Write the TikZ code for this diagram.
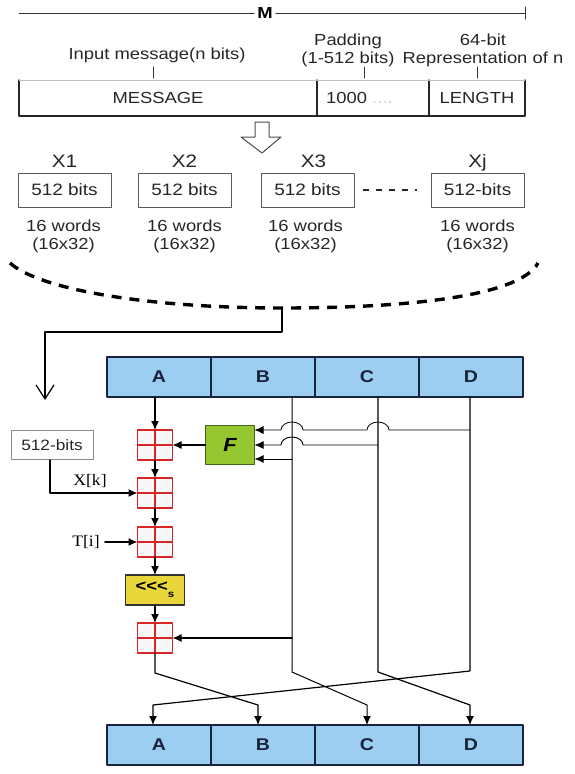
\documentclass[tikz,border=0pt]{standalone}
\usepackage{fontspec}
\setmainfont{Liberation Sans}[FakeStretch=1.15]
\newfontfamily\serifx{Liberation Serif}[FakeStretch=1.1]
\usetikzlibrary{arrows.meta,positioning,calc}
\definecolor{regblue}{RGB}{155,206,240}
\definecolor{regedge}{RGB}{25,35,60}
\definecolor{fgreen}{RGB}{150,198,48}
\definecolor{fedge}{RGB}{70,100,25}
\definecolor{rotyel}{RGB}{232,214,58}
\definecolor{addred}{RGB}{214,38,38}

\begin{document}
\begin{tikzpicture}[x=1pt,y=-1pt,line cap=round,line join=round,
  txt/.style={font=\fontsize{16}{18}\selectfont,text=black!85,inner sep=1pt},
  cell/.style={minimum height=36pt,inner sep=0pt,outer sep=0pt},
  blk/.style={draw=black!65,line width=1pt,minimum width=93pt,minimum height=34pt,inner sep=0pt,font=\fontsize{16.5}{18}\selectfont,text=black!85},
  hdr/.style={font=\fontsize{18}{18}\selectfont,text=black!85,inner sep=1pt,text height=13pt,text depth=4pt},
  reg/.style={draw=regedge,fill=regblue,line width=1.4pt,minimum width=104pt,minimum height=40pt,inner sep=0pt,outer sep=0pt,font=\bfseries\fontsize{17}{18}\selectfont,text=regedge},
  adder/.style={draw=addred,fill=black!3,line width=1.2pt,minimum width=35pt,minimum height=30pt,inner sep=0pt,outer sep=0pt,
    path picture={\draw[addred,line width=1.2pt] (path picture bounding box.north) -- (path picture bounding box.south) (path picture bounding box.west) -- (path picture bounding box.east);}},
  fboxstyle/.style={draw=fedge,fill=fgreen,line width=1.2pt,minimum width=49pt,minimum height=39pt,inner sep=0pt,outer sep=0pt,font=\bfseries\itshape\fontsize{19}{20}\selectfont},
  rotbox/.style={draw=black!80,fill=rotyel,line width=1.2pt,minimum width=59pt,minimum height=30pt,inner sep=0pt,outer sep=0pt,font=\bfseries\fontsize{16}{18}\selectfont},
  kboxstyle/.style={draw=black!45,fill=white,line width=1pt,minimum width=82pt,minimum height=29pt,inner sep=0pt,font=\fontsize{15}{18}\selectfont,text=black!85},
  serif/.style={font=\serifx\fontsize{16}{18}\selectfont,inner sep=1pt},
  flow/.style={-{Latex[length=9pt,width=8pt]},line width=1.2pt,black},
  hop/.style={start angle=0,end angle=180,x radius=11pt,y radius=8pt}]
\useasboundingbox (0,0) rectangle (574,774);
% message layout
\node[font=\bfseries\fontsize{16}{18}\selectfont,inner sep=3pt] (mlab) at (265,13) {M};
\coordinate (mleft) at (19,13);
\coordinate (mright) at (525,13);
\draw[black!80,line width=1pt] (mleft) -- (mlab.west) (mlab.east) -- (mright);
\draw[black!80,line width=1pt] ([yshift=6pt]mright) -- ([yshift=-6pt]mright);
\node[txt] (inlab) at (157,55) {Input message(n bits)};
\node[txt,align=center] (padlab) at (348,50) {Padding\\(1-512 bits)};
\node[txt,align=center] (lenlab) at (483,50) {64-bit\\Representation of n};
\node[cell,minimum width=298pt,label={[txt,xshift=-10pt]center:MESSAGE}] (msg) at (168,98) {};
\node[cell,minimum width=112pt,anchor=west,label={[txt,anchor=west,xshift=8pt]west:1000 \textcolor{black!18}{....}}] (pad) at (msg.east) {};
\node[cell,minimum width=96pt,anchor=west,label={[txt]center:LENGTH}] (len) at (pad.east) {};
\draw[black!85,line width=1.3pt] (msg.north west) -- (msg.south west) -- (len.south east) -- (len.north east) (msg.north east) -- (msg.south east) (pad.north east) -- (pad.south east);
\draw[black!25,line width=0.8pt] (msg.north west) -- (len.north east);
\draw[black!80,line width=1pt] (153,67) -- (153,78) (364,67) -- (364,78) (477,67) -- (477,78);
\draw[black!70,line width=1pt,fill=white] (255,122) -- (269,122) -- (269,137) -- (281,137) -- (262,153) -- (241,137) -- (255,137) -- cycle;
% 512-bit blocks
\node[blk] (x1) at (64.5,190) {512 bits};
\node[blk] (x2) at (184.5,190) {512 bits};
\node[blk] (x3) at (307.5,190) {512 bits};
\node[blk] (xj) at (477.5,190) {512-bits};
\node[hdr,above=0pt of x1] (h1) {X1};
\node[hdr,above=0pt of x2] (h2) {X2};
\node[hdr,above=0pt of x3,xshift=6pt] (h3) {X3};
\node[hdr,above=0pt of xj] (hj) {Xj};
\node[txt,align=center,below=11pt of x1,xshift=-1pt] (w1) {16 words\\(16x32)};
\node[txt,align=center,below=11pt of x2] (w2) {16 words\\(16x32)};
\node[txt,align=center,below=11pt of x3,xshift=-2pt] (w3) {16 words\\(16x32)};
\node[txt,align=center,below=11pt of xj] (wj) {16 words\\(16x32)};
\draw[black!85,line width=2.8pt,line cap=butt,dash pattern=on 6pt off 7pt] ([xshift=8pt]x3.east) -- ([xshift=-14pt]xj.west);
\draw[black,line width=3.4pt,line cap=butt,dash pattern=on 10pt off 8pt] (10,263) .. controls (40,290) and (150,308) .. (282,308) .. controls (410,308) and (520,296) .. (538,263);
\coordinate (arcbot) at (282,308);
\coordinate (entry) at (45,400);
\draw[black,line width=1.2pt,-{Straight Barb[length=14pt,width=18pt]}] (arcbot) -- ++(0,24) -| (entry);
% registers
\node[reg] (ra) at (159,377) {A};
\node[reg,right=0pt of ra] (rb) {B};
\node[reg,right=0pt of rb] (rc) {C};
\node[reg,right=0pt of rc] (rd) {D};
\node[reg] (na) at (159,745) {A};
\node[reg,right=0pt of na] (nb) {B};
\node[reg,right=0pt of nb] (nc) {C};
\node[reg,right=0pt of nc] (nd) {D};
% one step
\node[adder] (ad1) at (155,445) {};
\node[adder,below=18pt of ad1] (ad2) {};
\node[adder,below=19pt of ad2] (ad3) {};
\node[rotbox,below=18pt of ad3] (rot) {<{}<{}<\raisebox{-6pt}{\fontsize{10}{10}\selectfont s}};
\node[adder,below=18pt of rot] (ad4) {};
\node[fboxstyle,right=33pt of ad1] (fb) {F};
\node[kboxstyle] (kb) at (52,445) {512-bits};
\node[serif] (xk) at (90,481) {X[k]};
\node[serif] (ti) at (86,542) {T[i]};
\draw[flow] (ad1 |- ra.south) -- (ad1.north);
\draw[flow] (ad1.south) -- (ad2.north);
\draw[flow] (ad2.south) -- (ad3.north);
\draw[flow] (ad3.south) -- (rot.north);
\draw[flow] (rot.south) -- (ad4.north);
\draw[flow] (fb.west) -- (ad1.east);
\draw[flow] ([xshift=-2pt]kb.south) |- (ad2.west);
\draw[flow] ([xshift=4pt]ti.east) -- (ad3.west);
\coordinate (bt) at ([xshift=29pt]rb.south);
\coordinate (ct) at ([xshift=11pt]rc.south);
\coordinate (dt) at ([xshift=-1pt]rd.south);
\coordinate (fin1) at ([yshift=15pt]fb.east);
\coordinate (fin2) at (fb.east);
\coordinate (fin3) at ([yshift=-14pt]fb.east);
\draw[flow,line width=0.8pt] (fin1 -| dt) -- ($(fin1 -| ct)+(11,0)$) arc[hop] -- ($(fin1 -| bt)+(11,0)$) arc[hop] -- (fin1);
\draw[flow,line width=0.9pt] (fin2 -| ct) -- ($(fin2 -| bt)+(11,0)$) arc[hop] -- (fin2);
\draw[flow,line width=1pt] (fin3 -| bt) -- (fin3);
\draw[flow] (ad4.east -| bt) -- (ad4.east);
% outputs to new registers
\draw[flow,line width=1pt] (bt) -- ++(0,275) -- ([yshift=20pt]nc.north) -- (nc.north);
\draw[flow] (ct) -- ++(0,275) -- ([xshift=-1pt,yshift=20pt]nd.north) -- ([xshift=-1pt]nd.north);
\draw[flow] (dt) -- ++(0,274) -- ([xshift=-6pt,yshift=20pt]na.north) -- ([xshift=-6pt]na.north);
\draw[flow] (ad4.south) -- ++(0,20) -- ([xshift=-5pt,yshift=20pt]nb.north) -- ([xshift=-5pt]nb.north);
\end{tikzpicture}
\end{document}
